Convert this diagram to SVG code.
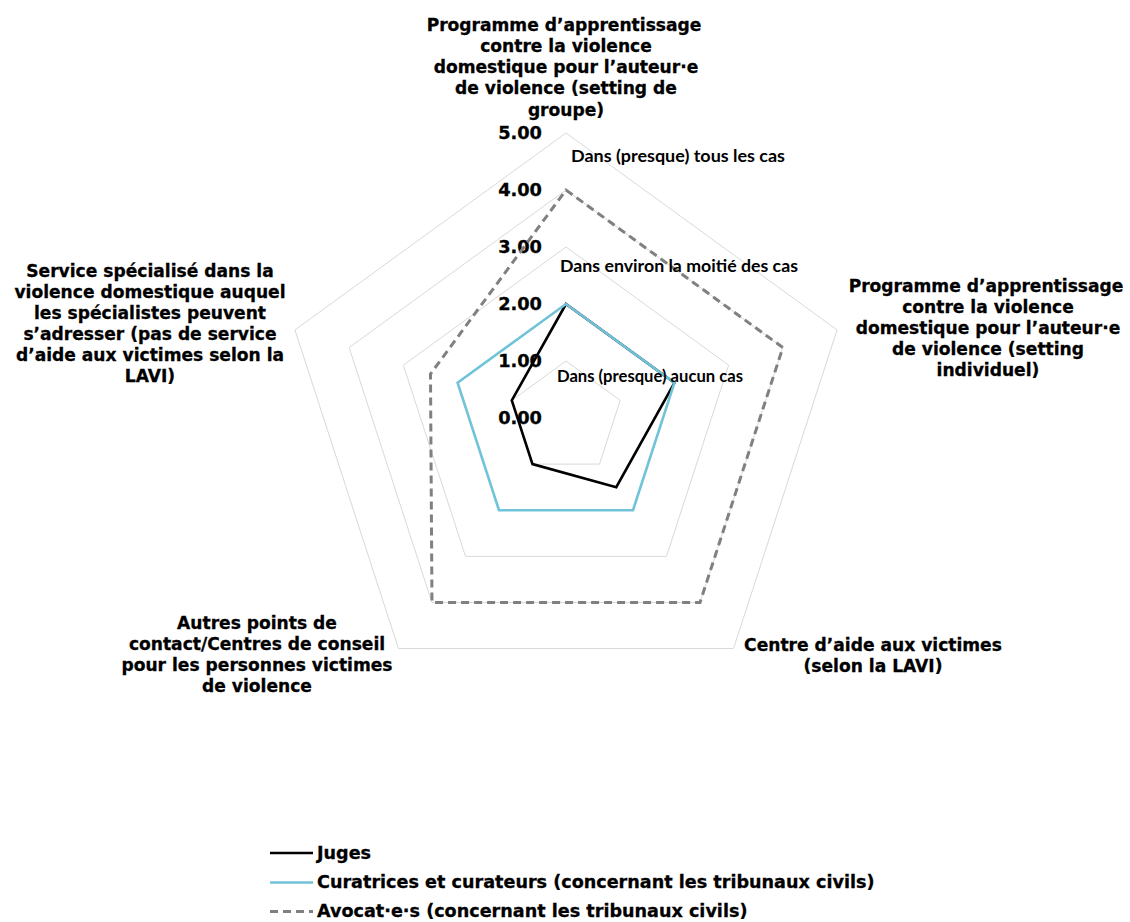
<svg xmlns="http://www.w3.org/2000/svg" width="1130" height="922" viewBox="0 0 1130 922">
<style>
.ring{fill:none;stroke:#d9d9d9;stroke-width:1}
.lbl{font-family:"DejaVu Sans","Verdana",sans-serif;font-weight:bold;font-size:17.1px;fill:#000;stroke:#000;stroke-width:0.3}
.leg{font-size:17.6px}
.num{font-family:"DejaVu Sans","Verdana",sans-serif;font-weight:bold;font-size:17.8px;fill:#000;stroke:#000;stroke-width:0.3;text-anchor:end}
.cat{text-anchor:middle}
.ann{font-family:Lato,"Liberation Sans",sans-serif;font-weight:bold;font-size:17px;fill:#000}
.juges{fill:none;stroke:#000;stroke-width:2.6;stroke-linejoin:miter}
.cur{fill:none;stroke:#70C3D8;stroke-width:2.6;stroke-linejoin:miter}
.avo{fill:none;stroke:#808080;stroke-width:3;stroke-dasharray:8 5;stroke-linejoin:miter}
</style>
<rect width="1130" height="922" fill="#fff"/>
<g id="grid">
<polygon class="ring" points="566,361 620.21,400.39 599.5,464.11 532.5,464.11 511.79,400.39"/>
<polygon class="ring" points="566,304 674.42,382.77 633.01,510.23 498.99,510.23 457.58,382.77"/>
<polygon class="ring" points="566,247 728.63,365.16 666.51,556.34 465.49,556.34 403.37,365.16"/>
<polygon class="ring" points="566,190 782.84,347.54 700.02,602.46 431.98,602.46 349.16,347.54"/>
<polygon class="ring" points="566,133 837.05,329.93 733.52,648.57 398.48,648.57 294.95,329.93"/>
</g>
<g id="axis-values">
<text class="num" x="542" y="139">5.00</text>
<text class="num" x="542" y="196">4.00</text>
<text class="num" x="542" y="253">3.00</text>
<text class="num" x="542" y="310">2.00</text>
<text class="num" x="542" y="367">1.00</text>
<text class="num" x="542" y="424">0.00</text>
</g>
<g id="series">
<polygon id="series-avocats" class="avo" points="566,190 782.84,347.54 700.02,602.46 431.98,602.46 430.47,373.97"/>
<polygon id="series-juges" class="juges" points="566,304 674.42,382.77 616.26,487.17 532.5,464.11 511.79,400.39"/>
<polygon id="series-curateurs" class="cur" points="566,304 674.42,382.77 633.01,510.23 498.99,510.23 457.58,382.77"/>
</g>
<g id="annotations">
<text class="ann" x="571" y="162" textLength="214" lengthAdjust="spacingAndGlyphs">Dans (presque) tous les cas</text>
<text class="ann" x="560" y="272" textLength="238" lengthAdjust="spacingAndGlyphs">Dans environ la moitié des cas</text>
<text class="ann" x="557" y="382" textLength="186" lengthAdjust="spacingAndGlyphs">Dans (presque) aucun cas</text>
</g>
<g id="cat-top">
<text class="lbl cat" x="564" y="30.5">Programme d’apprentissage</text>
<text class="lbl cat" x="566" y="51.8">contre la violence</text>
<text class="lbl cat" x="566" y="73.1">domestique pour l’auteur·e</text>
<text class="lbl cat" x="566" y="94.4">de violence (setting de</text>
<text class="lbl cat" x="566" y="115.7">groupe)</text>
</g>
<g id="cat-right">
<text class="lbl cat" x="986" y="291.7">Programme d’apprentissage</text>
<text class="lbl cat" x="988" y="312.8">contre la violence</text>
<text class="lbl cat" x="988" y="333.9">domestique pour l’auteur·e</text>
<text class="lbl cat" x="988" y="355">de violence (setting</text>
<text class="lbl cat" x="988" y="376">individuel)</text>
</g>
<g id="cat-bottom-right">
<text class="lbl cat" x="873" y="651">Centre d’aide aux victimes</text>
<text class="lbl cat" x="873" y="672">(selon la LAVI)</text>
</g>
<g id="cat-bottom-left">
<text class="lbl cat" x="257" y="629">Autres points de</text>
<text class="lbl cat" x="257" y="650">contact/Centres de conseil</text>
<text class="lbl cat" x="257" y="671">pour les personnes victimes</text>
<text class="lbl cat" x="257" y="692">de violence</text>
</g>
<g id="cat-left">
<text class="lbl cat" x="150" y="276.7">Service spécialisé dans la</text>
<text class="lbl cat" x="150" y="297.7">violence domestique auquel</text>
<text class="lbl cat" x="150" y="318.7">les spécialistes peuvent</text>
<text class="lbl cat" x="150" y="339.8">s’adresser (pas de service</text>
<text class="lbl cat" x="150" y="360.8">d’aide aux victimes selon la</text>
<text class="lbl cat" x="150" y="381.8">LAVI)</text>
</g>
<g id="legend">
<line class="juges" x1="270" y1="853" x2="313" y2="853"/>
<text class="lbl leg" x="317" y="859">Juges</text>
<line class="cur" x1="270" y1="882.5" x2="313" y2="882.5"/>
<text class="lbl leg" x="317" y="888">Curatrices et curateurs (concernant les tribunaux civils)</text>
<line class="avo" x1="270" y1="911.5" x2="313" y2="911.5"/>
<text class="lbl leg" x="317" y="917">Avocat·e·s (concernant les tribunaux civils)</text>
</g>
</svg>
